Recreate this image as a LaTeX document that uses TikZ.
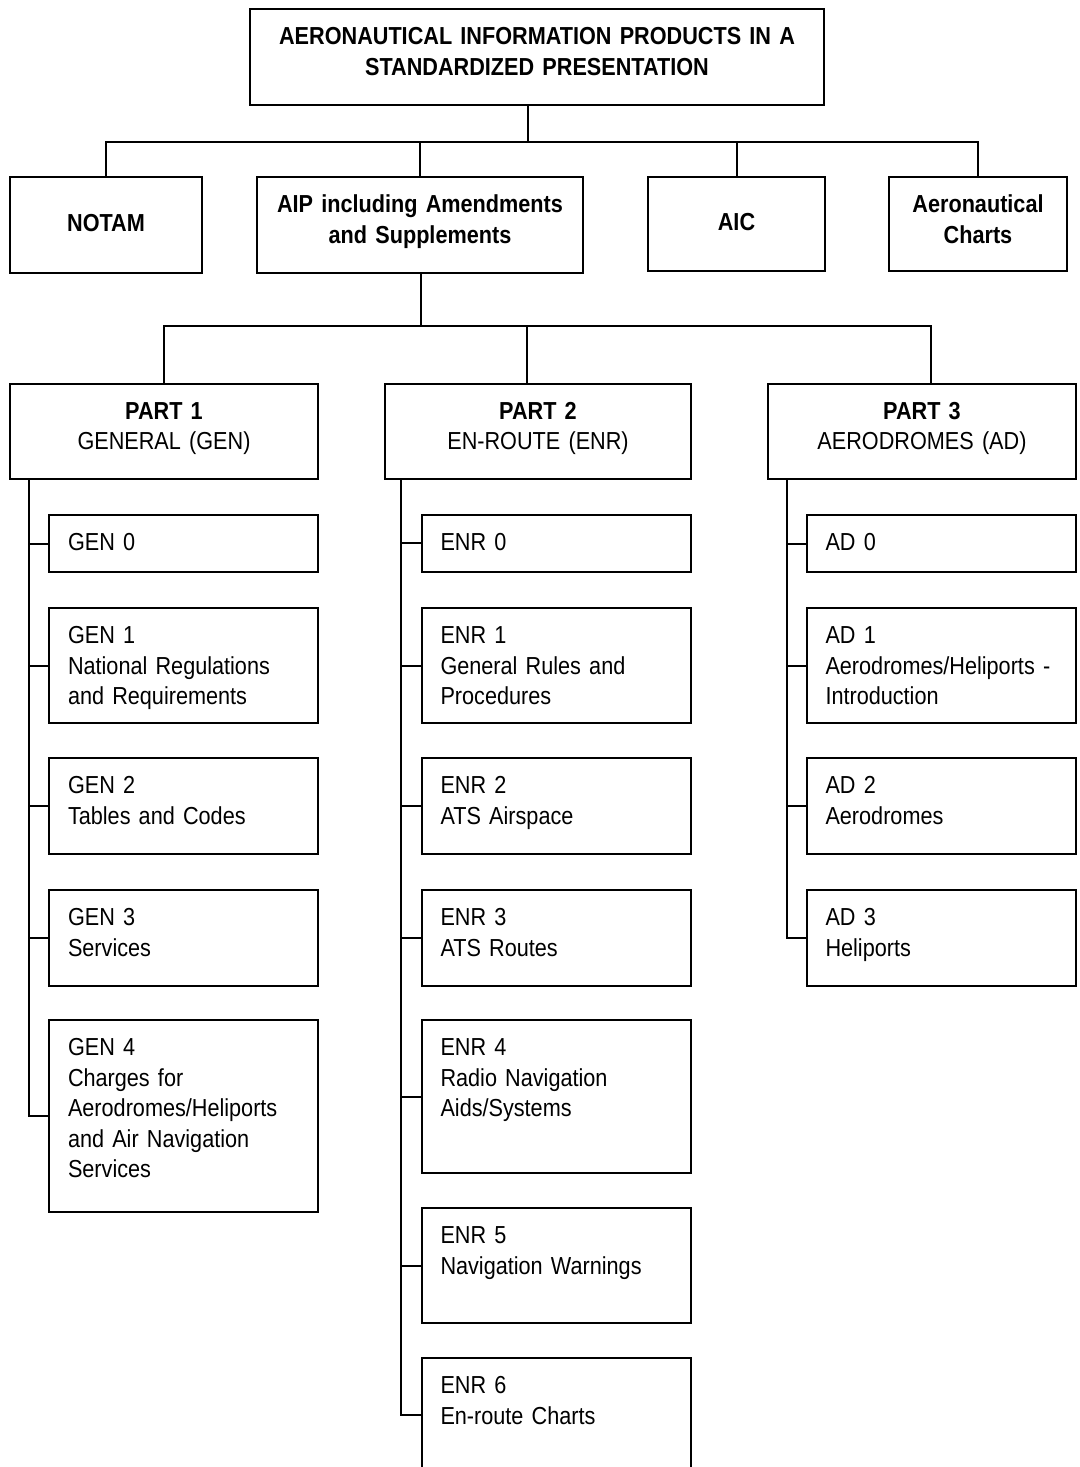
\documentclass[tikz,border=0pt]{standalone}
\usepackage{fontspec}
\setmainfont[FakeStretch=0.88]{Liberation Sans}
\newcommand\chartfont{\fontsize{24.6}{30.5}\selectfont}
\tikzset{
  box/.style={draw, line width=2pt, anchor=north west, inner ysep=0pt, text height=35.5pt},
  head/.style={box, inner xsep=4pt, align=center, text width=#1, font=\chartfont\bfseries},
  part/.style={box, inner xsep=4pt, align=center, text width=#1, text depth=60pt},
  sub/.style={box, inner xsep=19pt, text width=231pt, align=left, text depth=#1},
  link/.style={line width=2pt},
}

\begin{document}
\begin{tikzpicture}[x=1pt, y=-1pt, font=\chartfont]
\clip (0,0) rectangle (1079,1467);

%% products
\node[head=566pt, text depth=60.5pt] (top) at (249,8) {AERONAUTICAL INFORMATION PRODUCTS IN A\\STANDARDIZED PRESENTATION};
\node[head=184pt, text height=54pt, text depth=42pt] (notam) at (9,176) {NOTAM};
\node[head=318pt, text depth=60.5pt] (aip) at (256,176) {AIP including Amendments\\and Supplements};
\node[head=169pt, text height=53pt, text depth=41pt] (aic) at (647,176) {AIC};
\node[head=170pt, text depth=58.5pt] (charts) at (888,176) {Aeronautical\\Charts};

\coordinate (j1) at (528,142);
\draw[link] (top.south -| j1) -- (j1);
\draw[link] (notam.north) |- (j1) -| (charts.north);
\draw[link] (aip.north) -- (aip.north |- j1);
\draw[link] (aic.north) -- (aic.north |- j1);

%% the three parts of the AIP
\node[part=300pt] (p1) at (9,382.5)   {\textbf{PART 1}\\GENERAL (GEN)};
\node[part=298pt] (p2) at (384,382.5) {\textbf{PART 2}\\EN-ROUTE (ENR)};
\node[part=300pt] (p3) at (767,382.5) {\textbf{PART 3}\\AERODROMES (AD)};

\coordinate (j2) at (421,326);
\coordinate (d2) at (527,326);
\coordinate (d3) at (931,326);
\draw[link] (aip.south -| j2) -- (j2);
\draw[link] (p1.north) |- (d3) -- (d3 |- p3.north);
\draw[link] (d2) -- (d2 |- p2.north);

\coordinate (s1) at ([xshift=20pt]p1.south west);
\coordinate (s2) at ([xshift=17pt]p2.south west);
\coordinate (s3) at ([xshift=20pt]p3.south west);

%% sections, name/top/depth/text
\foreach \nm/\ytop/\dpt/\txt in {%
    gen0/514/21.5pt/{GEN 0},
    gen1/607/79.5pt/{GEN 1\\National Regulations\\and Requirements},
    gen2/757/60.5pt/{GEN 2\\Tables and Codes},
    gen3/889/60.5pt/{GEN 3\\Services},
    gen4/1019/156.5pt/{GEN 4\\Charges for\\Aerodromes/Heliports\\and Air Navigation\\Services}
    }{
  \node[sub=\dpt] (\nm) at (48,\ytop) {\txt};
  \draw[link] (s1) |- (\nm.west);
}

\foreach \nm/\ytop/\dpt/\txt in {%
    enr0/513.5/22pt/{ENR 0},
    enr1/607/79.5pt/{ENR 1\\General Rules and\\Procedures},
    enr2/757/60.5pt/{ENR 2\\ATS Airspace},
    enr3/889/60.5pt/{ENR 3\\ATS Routes},
    enr4/1019/117.5pt/{ENR 4\\Radio Navigation\\Aids/Systems},
    enr5/1207/79.5pt/{ENR 5\\Navigation Warnings},
    enr6/1357/77.5pt/{ENR 6\\En-route Charts}
    }{
  \node[sub=\dpt] (\nm) at (420.5,\ytop) {\txt};
  \draw[link] (s2) |- (\nm.west);
}

\foreach \nm/\ytop/\dpt/\txt in {%
    ad0/514/21.5pt/{AD 0},
    ad1/607/79.5pt/{AD 1\\Aerodromes/Heliports -\\Introduction},
    ad2/757/60.5pt/{AD 2\\Aerodromes},
    ad3/889/60.5pt/{AD 3\\Heliports}
    }{
  \node[sub=\dpt] (\nm) at (805.5,\ytop) {\txt};
  \draw[link] (s3) |- (\nm.west);
}
\end{tikzpicture}
\end{document}
